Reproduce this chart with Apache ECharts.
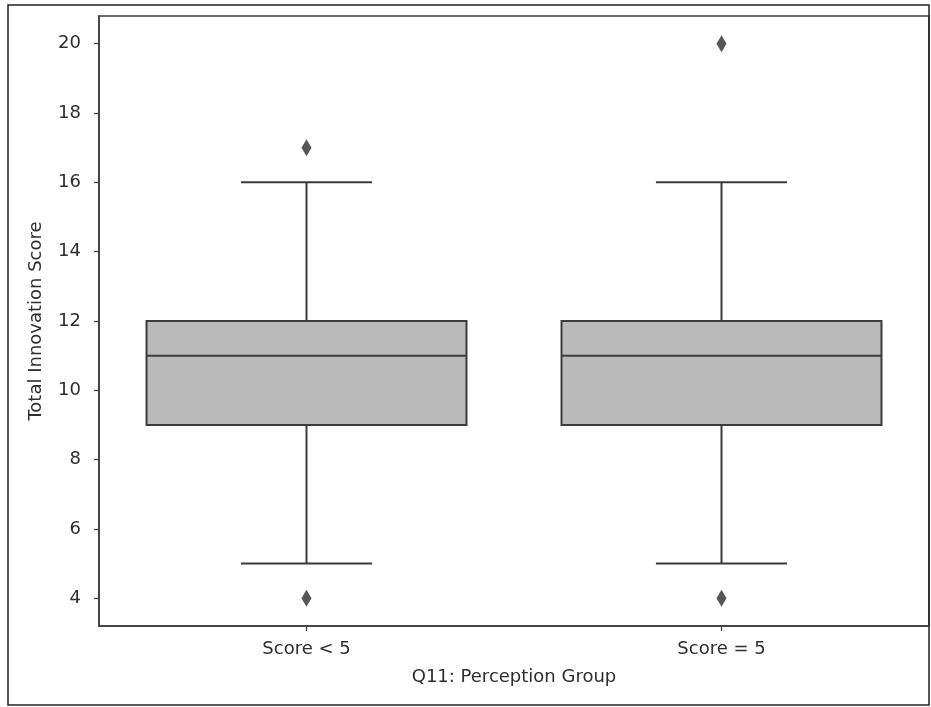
<!DOCTYPE html>
<html>
<head>
<meta charset="utf-8">
<script src="https://cdn.jsdelivr.net/npm/echarts@6/dist/echarts.min.js"></script>
<style>html,body{margin:0;padding:0;background:#fff;}#c{width:931px;height:707px;}</style>
</head>
<body>
<div id="c"></div>
<script>
const categories = ['Score < 5', 'Score = 5'];
const whiskerLow = [5, 5];
const q1 = [9, 9];
const median = [11, 11];
const q3 = [12, 12];
const whiskerHigh = [16, 16];
const outlierGroup = [0, 0, 1, 1];
const outlierValue = [17, 4, 20, 4];
const yTicks = [4, 6, 8, 10, 12, 14, 16, 18, 20];

const boxData = categories.map((c, i) => [i, whiskerLow[i], q1[i], median[i], q3[i], whiskerHigh[i]]);
const outlierData = outlierGroup.map((g, i) => [g, outlierValue[i]]);

const LINE = '#3b3b3b';
const TEXT = '#2e2e2e';
const FONT = 'DejaVu Sans';

const chart = echarts.init(document.getElementById('c'), null, {renderer: 'canvas'});
chart.setOption({
  animation: false,
  backgroundColor: '#fff',
  graphic: [{
    type: 'rect', silent: true, z: 0,
    shape: {x: 8, y: 5, width: 921, height: 700},
    style: {fill: 'none', stroke: '#222', lineWidth: 1.5}
  }],
  grid: {left: 99, right: 2, top: 16, bottom: 81, show: true, borderColor: LINE, borderWidth: 1.5, backgroundColor: 'transparent'},
  xAxis: {
    type: 'category',
    data: categories,
    boundaryGap: true,
    name: 'Q11: Perception Group',
    nameLocation: 'middle',
    nameGap: 42,
    nameTextStyle: {fontFamily: FONT, fontSize: 18, color: TEXT},
    axisLine: {show: true, lineStyle: {color: LINE, width: 1.5}},
    axisTick: {show: true, alignWithLabel: true, length: 5, lineStyle: {color: LINE, width: 1.2}},
    axisLabel: {fontFamily: FONT, fontSize: 18, color: TEXT, margin: 14},
    splitLine: {show: false}
  },
  yAxis: {
    type: 'value',
    min: 3.2,
    max: 20.8,
    name: 'Total Innovation Score',
    nameLocation: 'middle',
    nameGap: 54,
    nameTextStyle: {fontFamily: FONT, fontSize: 18, color: TEXT},
    axisLine: {show: true, lineStyle: {color: LINE, width: 1.5}},
    axisTick: {show: true, length: 5, customValues: yTicks, lineStyle: {color: LINE, width: 1.2}},
    axisLabel: {fontFamily: FONT, fontSize: 18, color: TEXT, margin: 18, customValues: yTicks},
    splitLine: {show: false}
  },
  series: [{
    type: 'custom',
    data: boxData,
    encode: {x: 0, y: [1, 2, 3, 4, 5]},
    z: 3,
    renderItem: function (params, api) {
      const x = api.value(0);
      const bw = api.size([1, 0])[0];
      const half = bw * 0.771 / 2;
      const capHalf = bw * 0.316 / 2;
      const pLow = api.coord([x, api.value(1)]);
      const pQ1 = api.coord([x, api.value(2)]);
      const pMed = api.coord([x, api.value(3)]);
      const pQ3 = api.coord([x, api.value(4)]);
      const pHigh = api.coord([x, api.value(5)]);
      const ls = {stroke: LINE, lineWidth: 2, fill: null};
      return {
        type: 'group',
        children: [
          {type: 'line', shape: {x1: pQ1[0], y1: pQ1[1], x2: pLow[0], y2: pLow[1]}, style: ls},
          {type: 'line', shape: {x1: pQ3[0], y1: pQ3[1], x2: pHigh[0], y2: pHigh[1]}, style: ls},
          {type: 'line', shape: {x1: pLow[0] - capHalf, y1: pLow[1], x2: pLow[0] + capHalf, y2: pLow[1]}, style: ls},
          {type: 'line', shape: {x1: pHigh[0] - capHalf, y1: pHigh[1], x2: pHigh[0] + capHalf, y2: pHigh[1]}, style: ls},
          {type: 'rect', shape: {x: pQ3[0] - half, y: pQ3[1], width: half * 2, height: pQ1[1] - pQ3[1]},
            style: {fill: '#bababa', stroke: LINE, lineWidth: 2}},
          {type: 'line', shape: {x1: pMed[0] - half, y1: pMed[1], x2: pMed[0] + half, y2: pMed[1]}, style: ls}
        ]
      };
    }
  }, {
    type: 'scatter',
    data: outlierData,
    symbol: 'diamond',
    symbolSize: [10, 17],
    itemStyle: {color: '#2a2a2a'},
    z: 4
  }]
});
</script>
</body>
</html>
